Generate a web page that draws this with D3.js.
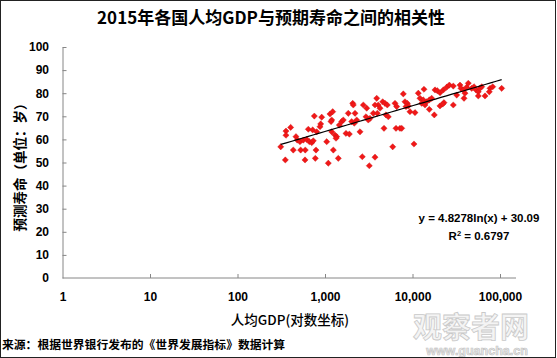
<!DOCTYPE html>
<html><head><meta charset="utf-8">
<script src="https://cdn.jsdelivr.net/npm/d3@7"></script>
<style>
html,body{margin:0;padding:0;background:#fff;}
svg{display:block;}
</style></head>
<body>
<svg id="c" width="557" height="358"></svg>
<script>
const gdp = [312,358,358,405,352,434,466,482,518,527,595,591,565,618,662,705,735,645,723,804,755,789,775,917,893,877,1046,1091,1140,1225,1194,1172,1194,1300,1361,1336,1245,1419,1456,1552,1618,1738,1897,1846,2074,2105,2203,2303,2018,2161,2512,2668,2742,2997,2942,3266,3126,3208,3727,3565,3899,4064,3727,4253,3962,4563,4852,5152,4723,4977,5289,5939,6310,6596,6477,7197,7852,8207,8724,8954,8433,7530,9354,10680,10400,11650,12180,13280,12740,13900,13530,14520,15560,16560,15560,17750,18070,19190,20610,22490,24600,26360,29250,20610,22910,22130,29250,32000,34910,35810,38100,39810,41600,43430,38800,47500,50470,53210,56490,59020,61800,56490,67450,76910,82600,75460,104500];
const lifeExp = [56.8,63.6,61.8,65.2,51.1,55.4,61.2,59.7,59.0,55.4,55.4,51.1,59.7,60.0,59.0,58.6,59.4,64.4,64.1,63.3,70.1,55.4,51.8,69.6,66.7,65.5,59.0,49.7,71.0,72.0,68.4,67.7,63.3,61.9,61.2,60.5,55.4,51.8,66.2,67.7,68.4,62.6,62.3,71.3,75.6,74.9,71.3,68.4,67.7,67.0,63.3,52.5,74.9,73.5,69.8,69.1,68.4,48.6,52.3,71.3,77.8,74.9,74.9,73.5,71.3,76.3,75.6,74.9,64.8,70.6,69.8,56.8,75.6,74.2,64.8,64.8,79.7,76.3,75.6,74.5,74.2,64.8,72.0,71.6,58.0,80.0,77.8,77.1,75.6,74.9,81.7,76.3,77.1,77.8,73.0,70.6,81.4,81.1,80.2,81.4,82.6,83.5,83.1,74.5,75.9,75.3,74.9,79.2,83.5,82.1,81.4,80.0,82.6,84.3,77.8,82.1,82.8,81.4,80.6,82.1,82.8,78.8,78.8,82.1,82.8,80.6,82.1];
const xTickValues = [1,10,100,1000,10000,100000];
const yTickValues = [0,10,20,30,40,50,60,70,80,90,100];
const trendCoef = [4.8278, 30.09];
const r2 = 0.6797;
const titleText = "2015年各国人均GDP与预期寿命之间的相关性";
const xTitle = "人均GDP(对数坐标)";
const yTitle = "预测寿命（单位：岁）";
const sourceText = "来源：根据世界银行发布的《世界发展指标》数据计算";
const watermark = ["观察者网", "www.guancha.cn"];

const svg = d3.select("#c");
const W = 557, H = 358;
const cjk = "'Noto Sans CJK SC', sans-serif";
const num = "'Liberation Sans', Arial, sans-serif";

svg.append("rect").attr("x",0).attr("y",0).attr("width",W).attr("height",H).attr("fill","#fff");

const x = d3.scaleLog().domain([1,100000]).range([62.5,500]);
const y = d3.scaleLinear().domain([0,100]).range([278,47]);
const axisColor = "#868686";

// watermark
const wm = svg.append("g").attr("font-weight","bold").attr("text-anchor","middle");
wm.append("text").attr("x",471).attr("y",338).attr("font-size",29).attr("font-family",cjk)
  .attr("fill","#f4f4f4").attr("stroke","#c9c9c9").attr("stroke-width",0.8).text(watermark[0]);
wm.append("text").attr("x",477).attr("y",355).attr("font-size",12.5).attr("font-family",num)
  .attr("fill","#eeeeee").attr("stroke","#c4c4c4").attr("stroke-width",0.7).text(watermark[1]);

svg.append("rect").attr("x",0.5).attr("y",0.5).attr("width",W-2).attr("height",H-1)
  .attr("fill","none").attr("stroke","#222").attr("stroke-width",1);

// title
svg.append("text").attr("x",271).attr("y",24).attr("text-anchor","middle")
  .attr("font-family",cjk).attr("font-weight","bold").attr("font-size",17).attr("fill","#000").text(titleText);

// axes
const xAxis = d3.axisBottom(x).tickValues(xTickValues).tickSizeInner(-4).tickSizeOuter(0).tickPadding(14)
  .tickFormat(d3.format(","));
const gx = svg.append("g").attr("transform",`translate(0,${y(0)})`).call(xAxis);
gx.select(".domain").remove();
gx.append("line").attr("x1",x(1)).attr("x2",x(100000)+16).attr("y1",0).attr("y2",0).attr("stroke",axisColor);
gx.selectAll(".tick line").attr("stroke",axisColor).filter(d=>d===1).remove();
gx.selectAll(".tick text").attr("font-family",num).attr("font-weight","bold").attr("font-size",12).attr("fill","#000");

const yAxis = d3.axisLeft(y).tickValues(yTickValues).tickSizeInner(-4).tickSizeOuter(0).tickPadding(13.5);
const gy = svg.append("g").attr("transform",`translate(${x(1)},0)`).call(yAxis);
gy.select(".domain").attr("stroke",axisColor);
gy.selectAll(".tick line").attr("stroke",axisColor).filter(d=>d===0).remove();
gy.selectAll(".tick text").attr("font-family",num).attr("font-weight","bold").attr("font-size",12).attr("fill","#000");

// axis titles
svg.append("text").attr("x",290).attr("y",325).attr("text-anchor","middle")
  .attr("font-family",cjk).attr("font-size",13.5).attr("font-weight",500).attr("fill","#000").text(xTitle);
svg.append("text").attr("transform","translate(25,164) rotate(-90)").attr("text-anchor","middle")
  .attr("font-family",cjk).attr("font-size",13.5).attr("font-weight","bold").attr("fill","#000").text(yTitle);

// source
svg.append("text").attr("x",2).attr("y",349).attr("font-family",cjk).attr("font-weight","bold")
  .attr("font-size",11.8).attr("fill","#000").text(sourceText);

// points
const pts = gdp.map((g,i)=>({g, v: lifeExp[i]}));
svg.append("g").selectAll("path").data(pts).join("path")
  .attr("transform",d=>`translate(${x(d.g)},${y(d.v)})`)
  .attr("d","M0,-3.1L3.1,0L0,3.1L-3.1,0Z")
  .attr("fill","#f01818").attr("stroke","#d01010").attr("stroke-width",0.4);

// trendline
const gMin = d3.min(gdp), gMax = d3.max(gdp);
const tl = d3.range(0,41).map(i=>{const lg = Math.log(gMin) + (Math.log(gMax)-Math.log(gMin))*i/40; const g=Math.exp(lg); return [g, trendCoef[0]*lg + trendCoef[1]];});
svg.append("path").datum(tl).attr("fill","none").attr("stroke","#000").attr("stroke-width",1.2)
  .attr("d",d3.line().x(d=>x(d[0])).y(d=>y(d[1])));

// equation
const eq = svg.append("g").attr("font-family",num).attr("font-weight","bold").attr("font-size",11.5).attr("fill","#000").attr("text-anchor","middle");
eq.append("text").attr("x",479).attr("y",222).text(`y = ${trendCoef[0]}ln(x) + ${trendCoef[1]}`);
const r = eq.append("text").attr("x",479).attr("y",240);
r.append("tspan").text("R");
r.append("tspan").attr("font-size",7.5).attr("dy",-4).text("2");
r.append("tspan").attr("dy",4).text(` = ${r2}`);
</script>
</body></html>
